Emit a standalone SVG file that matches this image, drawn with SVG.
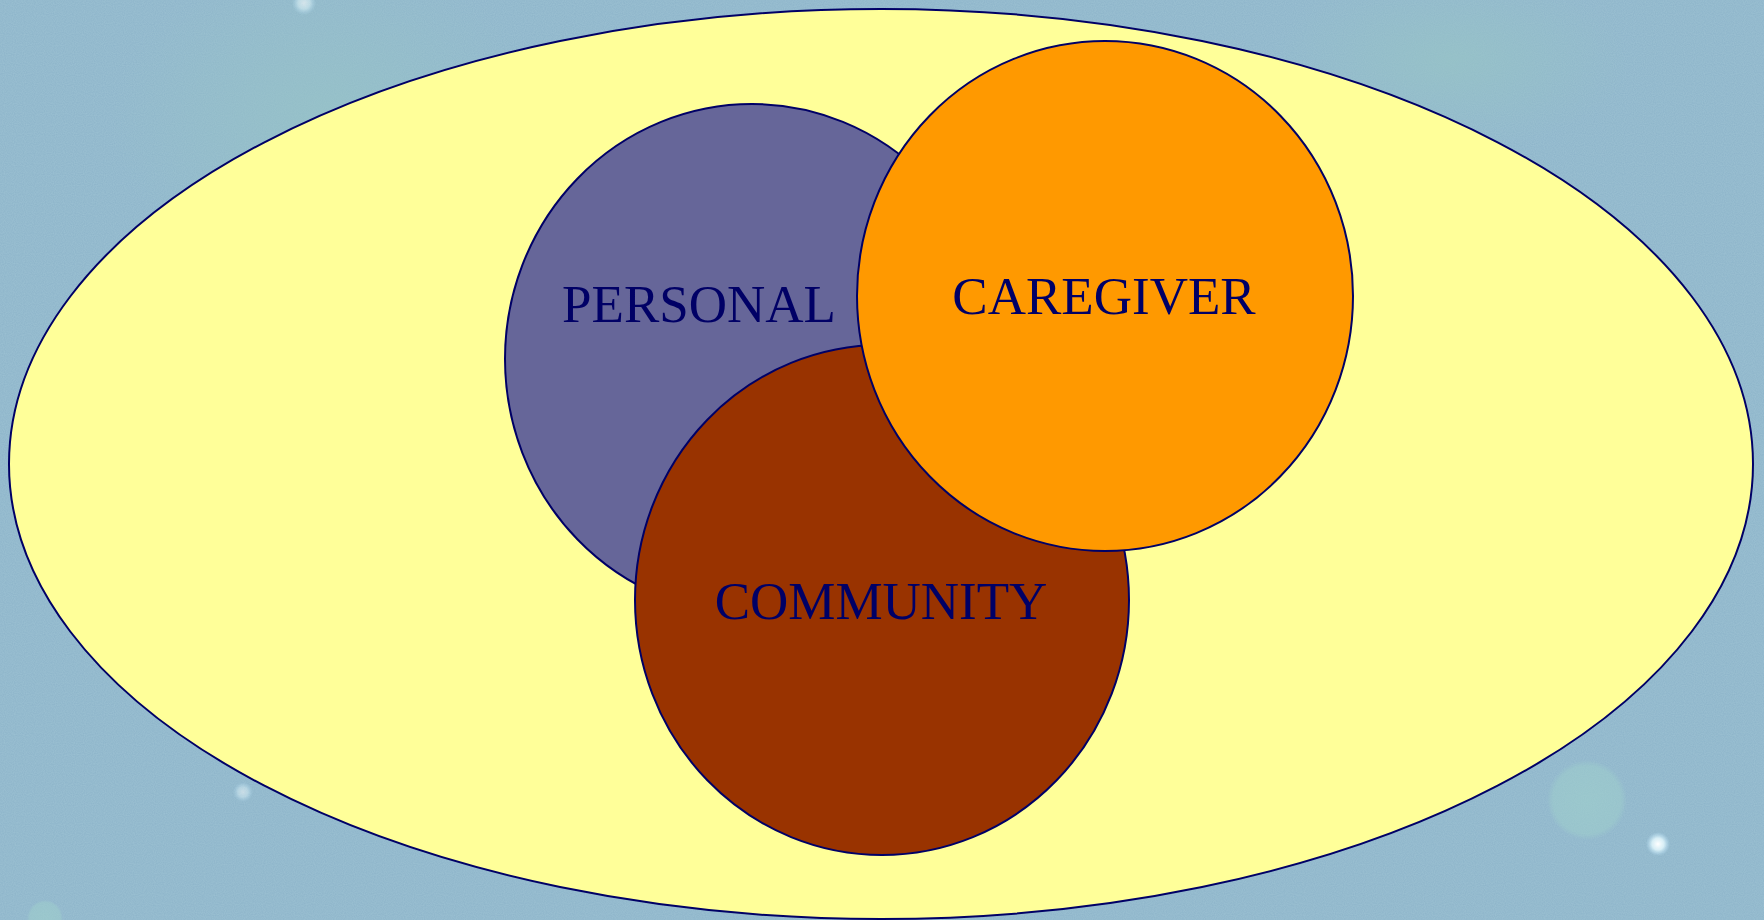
<svg xmlns="http://www.w3.org/2000/svg" width="1764" height="920" viewBox="0 0 1764 920">
  <defs>
    <radialGradient id="glow" cx="0.5" cy="0.5" r="0.5">
      <stop offset="0" stop-color="#ffffff" stop-opacity="1"/>
      <stop offset="0.5" stop-color="#e8fbff" stop-opacity="0.8"/>
      <stop offset="1" stop-color="#bfe8ff" stop-opacity="0"/>
    </radialGradient>
    <radialGradient id="soft" cx="0.5" cy="0.5" r="0.5">
      <stop offset="0" stop-color="#9fd0cc" stop-opacity="0.6"/>
      <stop offset="0.85" stop-color="#9fd0cc" stop-opacity="0.5"/>
      <stop offset="1" stop-color="#9fd0cc" stop-opacity="0"/>
    </radialGradient>
    <radialGradient id="patch" cx="0.5" cy="0.5" r="0.5">
      <stop offset="0" stop-color="#97c4c6" stop-opacity="0.7"/>
      <stop offset="1" stop-color="#97c4c6" stop-opacity="0"/>
    </radialGradient>
    <filter id="noise" x="0" y="0" width="100%" height="100%">
      <feTurbulence type="fractalNoise" baseFrequency="0.9" numOctaves="1" seed="3" result="n"/>
      <feColorMatrix type="matrix" values="0 0 0 0 0.5  0 0 0 0 0.72  0 0 0 0 0.78  0 0 0 0.35 0" />
    </filter>
  </defs>
  <style>
    .shape { stroke: #000066; stroke-width: 2; }
    .label { font-family: "Liberation Serif", "Times New Roman", serif; font-size: 53px; fill: #000066; text-anchor: middle; }
  </style>

  <g id="background">
    <rect x="0" y="0" width="1764" height="920" fill="#8cb3c9"/>
    <rect x="0" y="0" width="1764" height="920" filter="url(#noise)"/>
    <ellipse cx="330" cy="120" rx="220" ry="160" fill="url(#patch)"/>
    <ellipse cx="1450" cy="60" rx="180" ry="90" fill="url(#patch)"/>
    <circle cx="1587" cy="800" r="40" fill="url(#soft)"/>
    <circle cx="1658" cy="844" r="12" fill="url(#glow)"/>
    <circle cx="304" cy="3" r="12" fill="url(#glow)" opacity="0.6"/>
    <circle cx="243" cy="792" r="10" fill="url(#glow)" opacity="0.5"/>
    <circle cx="45" cy="918" r="18" fill="url(#soft)"/>
  </g>

  <g id="context">
    <ellipse class="shape" cx="881" cy="464" rx="872" ry="455" fill="#ffff99"/>
  </g>

  <g id="personal">
    <ellipse class="shape" cx="752" cy="359" rx="247" ry="255" fill="#666699"/>
    <text class="label" x="699" y="322">PERSONAL</text>
  </g>

  <g id="community">
    <ellipse class="shape" cx="882" cy="600" rx="247" ry="255" fill="#993300"/>
    <text class="label" x="881" y="619">COMMUNITY</text>
  </g>

  <g id="caregiver">
    <ellipse class="shape" cx="1105" cy="296" rx="248" ry="255" fill="#ff9900"/>
    <text class="label" x="1104" y="314">CAREGIVER</text>
  </g>

  <g id="connectors"/>
</svg>
